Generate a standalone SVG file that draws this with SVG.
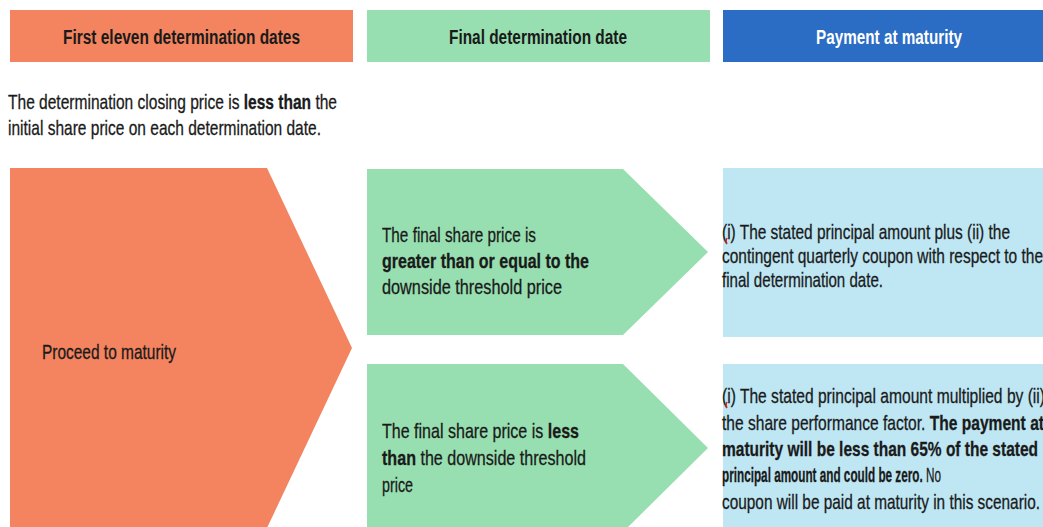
<svg xmlns="http://www.w3.org/2000/svg" width="1043" height="527" viewBox="0 0 1043 527">
<style>
text{font-family:"Liberation Sans",Arial,sans-serif;fill:#1a1a1a}
.h{font-size:19.5px;font-weight:bold}
.t{font-size:21px;stroke:#1a1a1a;stroke-width:0.3px}
.b{font-weight:bold}
.or{fill:#F3845F}
.gr{fill:#97DFB0}
.lb{fill:#BEE6F3}
</style>
<rect width="1043" height="527" fill="#ffffff"/>
<g id="header-first">
<rect class="or" x="10" y="10" width="343" height="52"/>
<text class="h" x="63" y="44" textLength="237" lengthAdjust="spacingAndGlyphs">First eleven determination dates</text>
</g>
<g id="header-final">
<rect class="gr" x="367" y="10" width="343" height="52"/>
<text class="h" x="449" y="44" textLength="178" lengthAdjust="spacingAndGlyphs">Final determination date</text>
</g>
<g id="header-payment">
<rect x="723" y="10" width="330" height="52" fill="#2B6CC4"/>
<text class="h" x="816" y="44" textLength="146" lengthAdjust="spacingAndGlyphs" style="fill:#ffffff">Payment at maturity</text>
</g>
<g id="condition-text">
<text class="t" x="8" y="109" textLength="329" lengthAdjust="spacingAndGlyphs">The determination closing price is <tspan class="b">less than</tspan> the</text>
<text class="t" x="8" y="135" textLength="313" lengthAdjust="spacingAndGlyphs">initial share price on each determination date.</text>
</g>
<g id="proceed">
<polygon class="or" points="10,168 267,168 352,348 267,528 10,528"/>
<text class="t" x="42" y="359" textLength="134" lengthAdjust="spacingAndGlyphs">Proceed to maturity</text>
</g>
<g id="final-above">
<polygon class="gr" points="367,169 623,169 708,252 623,335 367,335"/>
<text class="t" x="382" y="242" textLength="154" lengthAdjust="spacingAndGlyphs">The final share price is</text>
<text class="t b" x="382" y="268" textLength="207" lengthAdjust="spacingAndGlyphs">greater than or equal to the</text>
<text class="t" x="382" y="294" textLength="180" lengthAdjust="spacingAndGlyphs">downside threshold price</text>
</g>
<g id="final-below">
<polygon class="gr" points="367,364 623,364 708,448 623,532 367,532"/>
<text class="t" x="382" y="438" textLength="197" lengthAdjust="spacingAndGlyphs">The final share price is <tspan class="b">less</tspan></text>
<text class="t" x="382" y="465" textLength="204" lengthAdjust="spacingAndGlyphs"><tspan class="b">than</tspan> the downside threshold</text>
<text class="t" x="382" y="492" textLength="31" lengthAdjust="spacingAndGlyphs">price</text>
</g>
<g id="payment-above">
<rect class="lb" x="723" y="168" width="330" height="169"/>
<text class="t" x="722" y="239" textLength="288" lengthAdjust="spacingAndGlyphs">(i) The stated principal amount plus (ii) the</text>
<text class="t" x="722" y="263" textLength="321" lengthAdjust="spacingAndGlyphs">contingent quarterly coupon with respect to the</text>
<text class="t" x="722" y="287" textLength="161" lengthAdjust="spacingAndGlyphs">final determination date.</text>
<path d="M727,238 q-2,4 0,6" fill="none" stroke="#d02020" stroke-width="1.5"/>
</g>
<g id="payment-below">
<rect class="lb" x="723" y="364" width="330" height="170"/>
<text class="t" x="722" y="403" textLength="323" lengthAdjust="spacingAndGlyphs">(i) The stated principal amount multiplied by (ii)</text>
<text class="t" x="722" y="430" textLength="322" lengthAdjust="spacingAndGlyphs">the share performance factor. <tspan class="b">The payment at</tspan></text>
<text class="t b" x="722" y="456" textLength="316" lengthAdjust="spacingAndGlyphs">maturity will be less than 65% of the stated</text>
<text class="t" x="722" y="482" textLength="219" lengthAdjust="spacingAndGlyphs"><tspan class="b">principal amount and could be zero.</tspan> No</text>
<text class="t" x="722" y="509" textLength="318" lengthAdjust="spacingAndGlyphs">coupon will be paid at maturity in this scenario.</text>
<path d="M727,402 q-2,4 0,6" fill="none" stroke="#d02020" stroke-width="1.5"/>
</g>
<g id="connectors"/>
</svg>
